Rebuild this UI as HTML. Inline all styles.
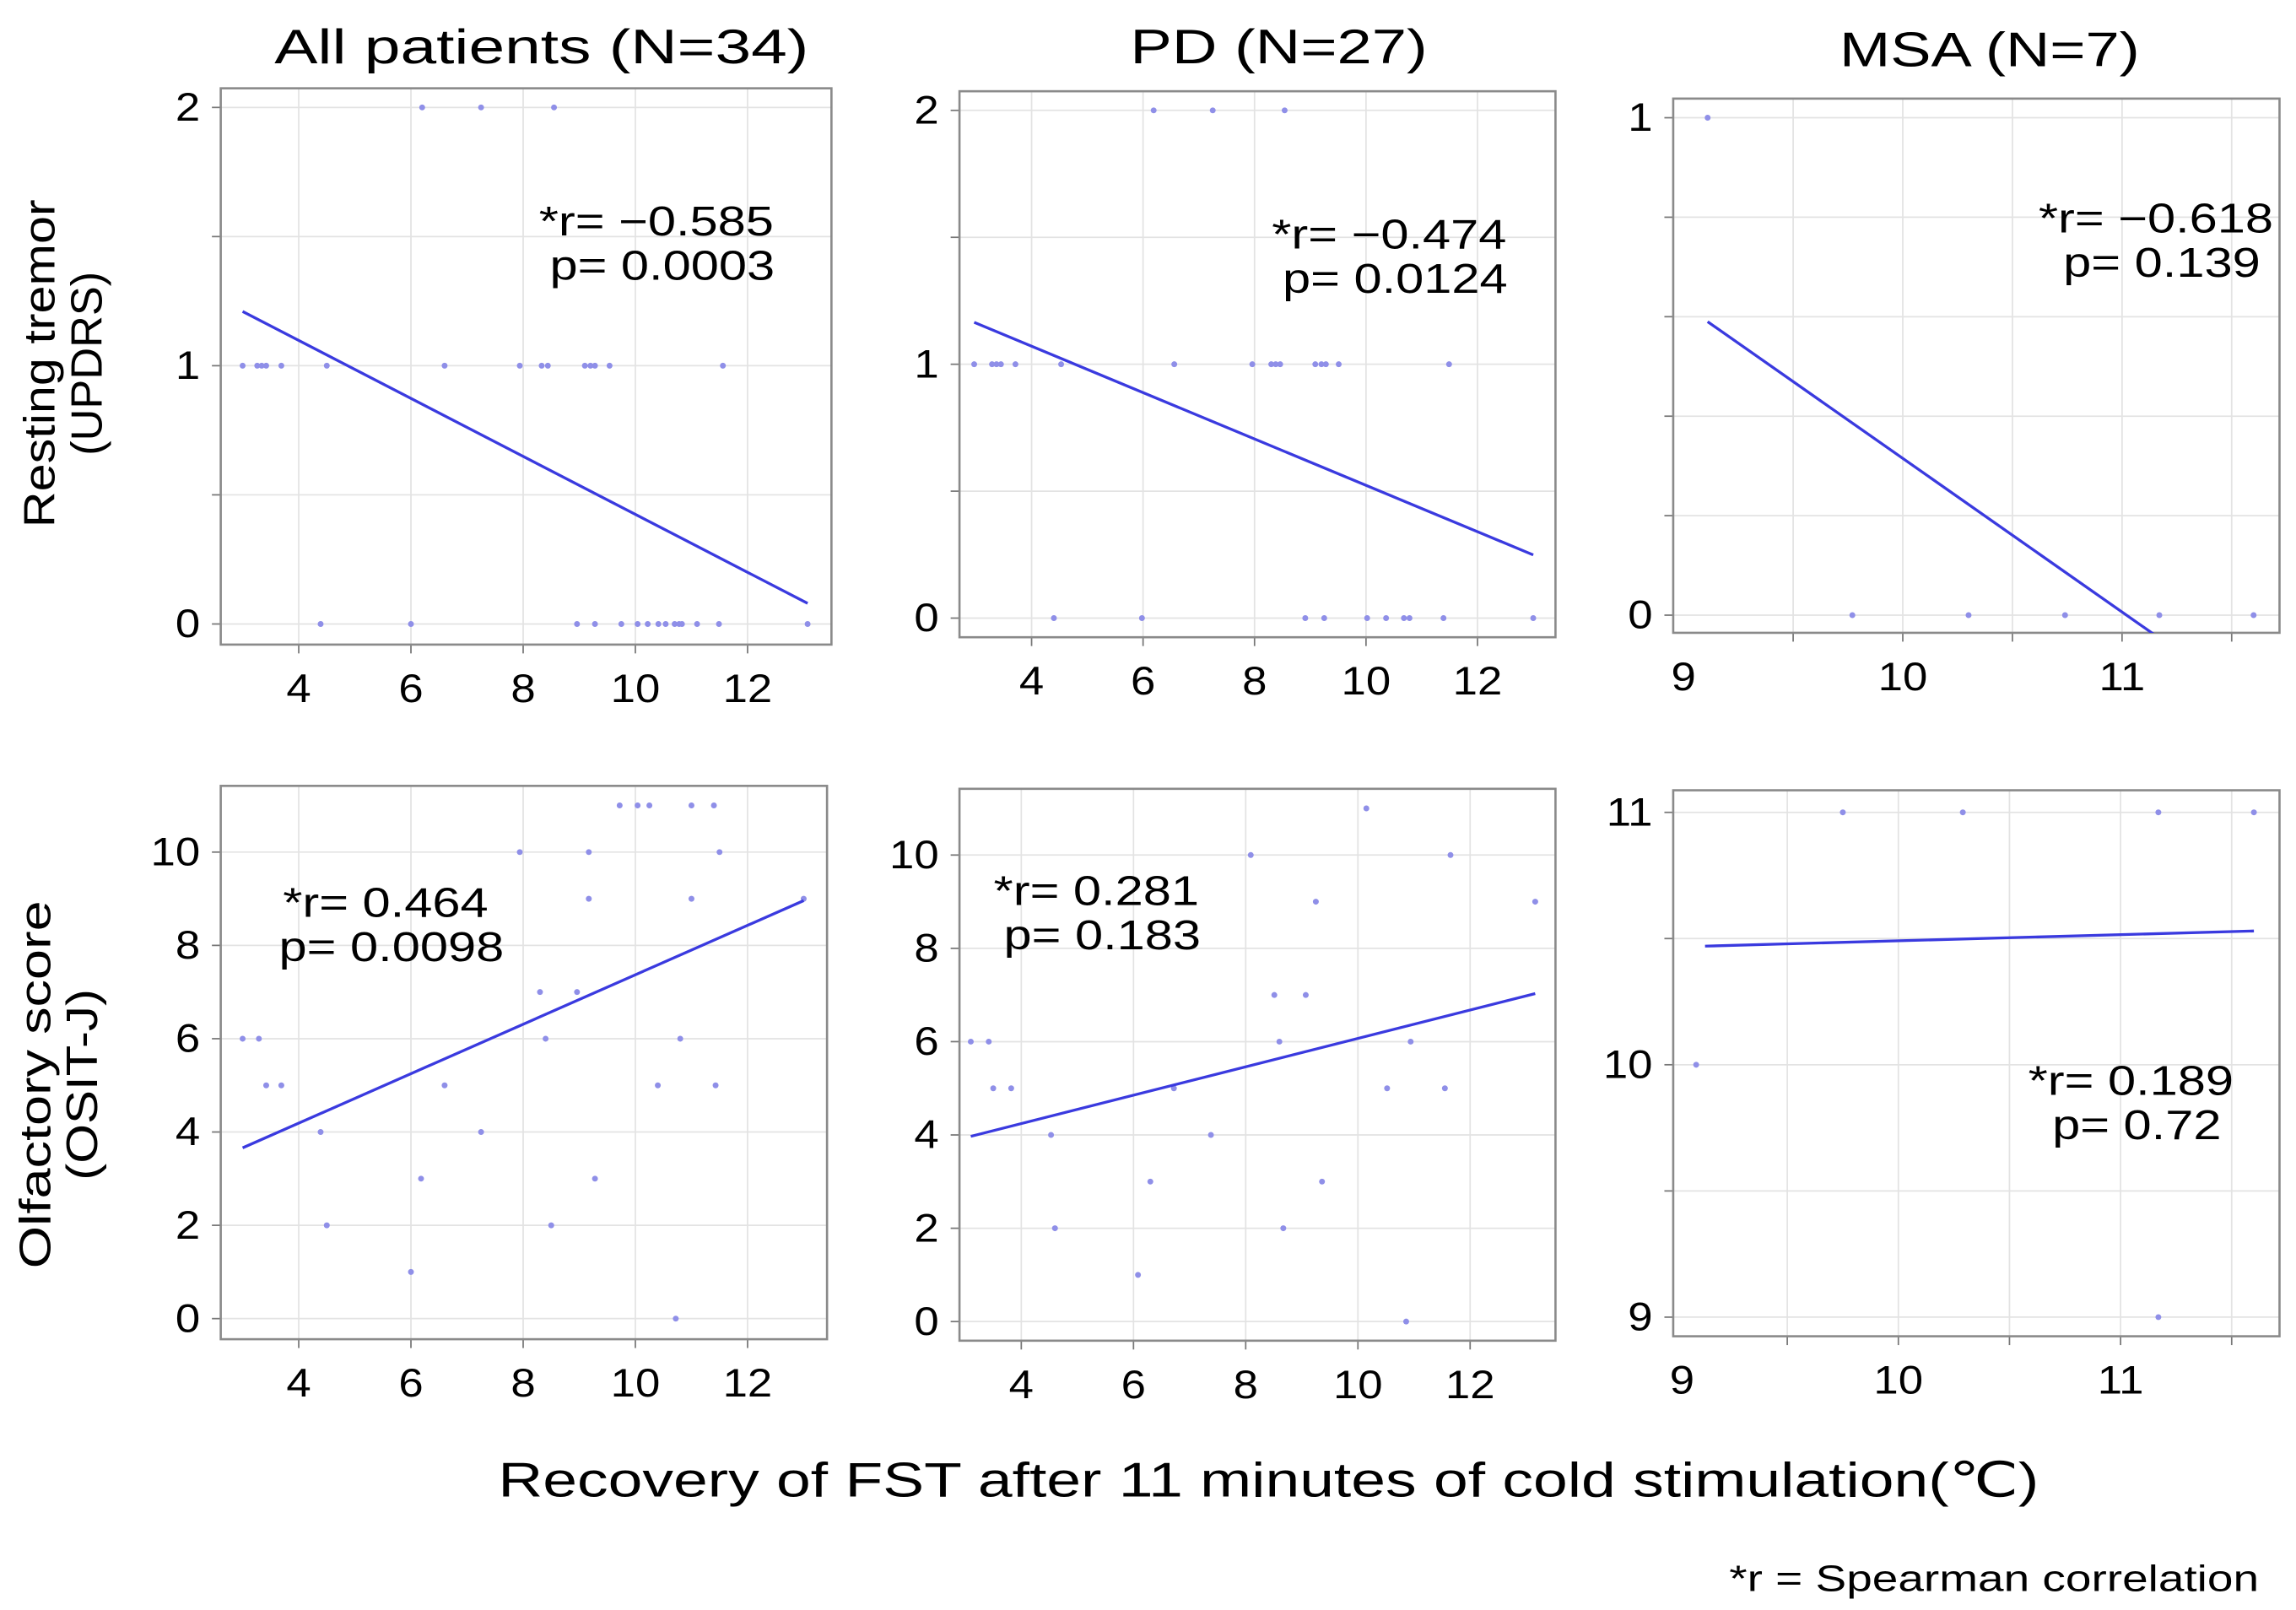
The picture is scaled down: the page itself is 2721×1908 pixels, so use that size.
<!DOCTYPE html>
<html><head><meta charset="utf-8"><style>
html,body{margin:0;padding:0;background:#fff;}
svg{display:block;font-family:"Liberation Sans","DejaVu Sans",sans-serif;}
</style></head><body>
<svg id="fig" width="2721" height="1908" viewBox="0 0 1560.2 1094" preserveAspectRatio="none" xmlns="http://www.w3.org/2000/svg">
<text x="368" y="43" font-size="33" text-anchor="middle" textLength="363" lengthAdjust="spacingAndGlyphs">All patients (N=34)</text>
<text x="869" y="43" font-size="33" text-anchor="middle" textLength="202" lengthAdjust="spacingAndGlyphs">PD (N=27)</text>
<text x="1352" y="45" font-size="33" text-anchor="middle" textLength="204" lengthAdjust="spacingAndGlyphs">MSA (N=7)</text>
<text transform="translate(37,247) rotate(-90)" font-size="30" text-anchor="middle" textLength="223" lengthAdjust="spacingAndGlyphs">Resting tremor</text>
<text transform="translate(69,247) rotate(-90)" font-size="30" text-anchor="middle" textLength="125" lengthAdjust="spacingAndGlyphs">(UPDRS)</text>
<text transform="translate(34,737) rotate(-90)" font-size="30" text-anchor="middle" textLength="250" lengthAdjust="spacingAndGlyphs">Olfactory score</text>
<text transform="translate(66,737) rotate(-90)" font-size="30" text-anchor="middle" textLength="130" lengthAdjust="spacingAndGlyphs">(OSIT-J)</text>
<text x="862" y="1017" font-size="33" text-anchor="middle" textLength="1047" lengthAdjust="spacingAndGlyphs">Recovery of FST after 11 minutes of cold stimulation(℃)</text>
<text x="1535" y="1081" font-size="25" text-anchor="end" textLength="360" lengthAdjust="spacingAndGlyphs">*r = Spearman correlation</text>
</svg>
<script>
// Panel A: All patients, tremor
const aX=[6.2,7.25,8.55,3.0,3.26,3.34,3.42,3.69,4.5,6.6,7.94,8.33,8.44,9.1,9.2,9.28,9.54,11.56,4.39,6.0,8.96,9.28,9.75,10.04,10.22,10.41,10.54,10.7,10.78,10.83,11.1,11.49,13.07];
const aY=[2,2,2,1,1,1,1,1,1,1,1,1,1,1,1,1,1,1,0,0,0,0,0,0,0,0,0,0,0,0,0,0,0];
const aLine=[3.0,1.21,13.07,0.08];
// Panel B: PD, tremor
const bX=[6.19,7.25,8.54,2.97,3.29,3.37,3.45,3.71,4.53,6.56,7.96,8.3,8.38,8.46,9.09,9.2,9.28,9.51,11.49,4.4,5.98,8.91,9.25,10.02,10.36,10.68,10.78,11.39,13.0];
const bY=[2,2,2,1,1,1,1,1,1,1,1,1,1,1,1,1,1,1,1,0,0,0,0,0,0,0,0,0,0];
const bLine=[2.97,1.165,13.0,0.249];
// Panel C: MSA, tremor
const cX=[9.11,9.77,10.30,10.74,11.17,11.60];
const cY=[1,0,0,0,0,0];
const cLine=[9.11,0.59,11.15,-0.04];
// Panel D: All patients, olfactory
const dX=[3.0,3.29,3.42,3.69,4.39,4.5,6.0,6.18,6.6,7.25,7.94,8.3,8.4,8.5,8.96,9.17,9.17,9.28,9.72,10.04,10.25,10.4,10.72,10.8,11.0,11.0,11.4,11.43,11.5,13.0];
const dY=[6,6,5,5,4,2,1,3,5,4,10,7,6,2,7,10,9,3,11,11,11,5,0,6,11,9,11,5,10,9];
const dLine=[3.0,3.66,13.0,8.96];
// Panel E: PD, olfactory
const eX=[3.1,3.42,3.5,3.82,4.53,4.6,6.08,6.3,6.72,7.38,8.09,8.51,8.6,8.67,9.07,9.25,9.36,10.15,10.52,10.86,10.94,11.55,11.65,13.16];
const eY=[6,6,5,5,4,2,1,3,5,4,10,7,6,2,7,9,3,11,5,0,6,5,10,9];
const eLine=[3.1,3.97,13.16,7.03];
// Panel F: MSA, olfactory
const fX=[9.09,9.75,10.29,11.17,11.60,11.17];
const fY=[10,11,11,11,11,9];
const fLine=[9.13,10.47,11.6,10.53];

const aXTicks=[4,6,8,10,12], aYTicks=[0,1,2], aYGrid=[0,0.5,1,1.5,2];
const cXTicks=[9,10,11], cXGrid=[9.5,10,10.5,11,11.5], cYTicks=[0,1], cYGrid=[0,0.2,0.4,0.6,0.8,1];
const dYTicks=[0,2,4,6,8,10], dYGrid=[0,2,4,6,8,10];
const fYTicks=[9,10,11], fYGrid=[9,9.5,10,10.5,11];
const stats=[["*r= −0.585","p= 0.0003"],["*r= −0.474","p= 0.0124"],["*r= −0.618","p= 0.139"],["*r= 0.464","p= 0.0098"],["*r= 0.281","p= 0.183"],["*r= 0.189","p= 0.72"]];

const NS="http://www.w3.org/2000/svg";
const svg=document.getElementById('fig');
function mk(tag,attrs,parent){const e=document.createElementNS(NS,tag);for(const k in attrs)e.setAttribute(k,attrs[k]);(parent||svg).appendChild(e);return e;}
function widen(t,f){const w=t.getComputedTextLength();t.setAttribute('textLength',w*f);t.setAttribute('lengthAdjust','spacingAndGlyphs');}

function panel(p){
  const g=mk('g',{});
  
  
  const sx=v=>p.px0+(v-p.x0)*(p.px1-p.px0)/(p.x1-p.x0);
  const sy=v=>p.py0+(v-p.y0)*(p.py1-p.py0)/(p.y1-p.y0);
  const cid='clip-'+p.name;
  const cp=mk('clipPath',{id:cid},g);
  mk('rect',{x:p.L,y:p.T,width:p.R-p.L,height:p.B-p.T},cp);
  p.xgrid.forEach(v=>{const l=mk('line',{x1:sx(v),x2:sx(v),y1:p.T,y2:p.B,stroke:'#e3e3e3','stroke-width':1},g);
    
    
    mk('line',{x1:sx(v),x2:sx(v),y1:p.B,y2:p.B+6,stroke:'#777','stroke-width':1},g);});
  p.ygrid.forEach(v=>{const l=mk('line',{x1:p.L,x2:p.R,y1:sy(v),y2:sy(v),stroke:'#e3e3e3','stroke-width':1},g);
    
    
    mk('line',{x1:p.L-6,x2:p.L,y1:sy(v),y2:sy(v),stroke:'#777','stroke-width':1},g);});
  const fr=mk('rect',{x:p.L,y:p.T,width:p.R-p.L,height:p.B-p.T,fill:'none',stroke:'#8a8a8a','stroke-width':1.5},g);
  
  
  p.xticks.forEach(v=>{const t=mk('text',{x:Math.max(sx(v),p.L+6),y:p.B+39,'font-size':27,'text-anchor':'middle'},g);t.textContent=v;
    
    
    widen(t,1.12);});
  p.yticks.forEach(v=>{const t=mk('text',{x:p.L-14,y:sy(v)+9,'font-size':27,'text-anchor':'end'},g);t.textContent=v;
    
    
    widen(t,1.12);});
  p.xs.forEach((x,i)=>{const c=mk('circle',{cx:sx(x),cy:sy(p.ys[i]),r:2,fill:'#8f8fe8'},g);
    
    });
  const ln=mk('line',{x1:sx(p.line[0]),y1:sy(p.line[1]),x2:sx(p.line[2]),y2:sy(p.line[3]),stroke:'#3a3adf','stroke-width':1.9,'clip-path':'url(#'+cid+')'},g);
  
  
  const st=mk('text',{x:p.sxp,y:p.syp,'font-size':28,'text-anchor':'middle'},g);
  
  
  const t1=mk('tspan',{x:p.sxp,dy:0},st);t1.textContent=p.stat[0];
  const t2=mk('tspan',{x:p.sxp+4,dy:30},st);t2.textContent=p.stat[1];
  [t1,t2].forEach(t=>{const w=t.getComputedTextLength();t.setAttribute('textLength',w*1.22);t.setAttribute('lengthAdjust','spacingAndGlyphs');});
}
const ev=[4,6,8,10,12];
panel({name:'panel-all-tremor',L:150,R:565,T:60,B:438,x0:4,x1:12,px0:203,px1:508,y0:0,y1:2,py0:424,py1:73,xs:aX,ys:aY,line:aLine,xgrid:ev,xticks:aXTicks,ygrid:aYGrid,yticks:aYTicks,stat:stats[0],sxp:446,syp:160});
panel({name:'panel-pd-tremor',L:652,R:1057,T:62,B:433,x0:4,x1:12,px0:701,px1:1004,y0:0,y1:2,py0:420,py1:75,xs:bX,ys:bY,line:bLine,xgrid:ev,xticks:aXTicks,ygrid:aYGrid,yticks:aYTicks,stat:stats[1],sxp:944,syp:169});
panel({name:'panel-msa-tremor',L:1137,R:1549,T:67,B:430,x0:10,x1:11,px0:1293,px1:1442,y0:0,y1:1,py0:418,py1:80,xs:cX,ys:cY,line:cLine,xgrid:cXGrid,xticks:cXTicks,ygrid:cYGrid,yticks:cYTicks,stat:stats[2],sxp:1465,syp:158});
panel({name:'panel-all-olfactory',L:150,R:562,T:534,B:910,x0:4,x1:12,px0:203,px1:508,y0:0,y1:10,py0:896,py1:579,xs:dX,ys:dY,line:dLine,xgrid:ev,xticks:aXTicks,ygrid:dYGrid,yticks:dYTicks,stat:stats[3],sxp:262,syp:623});
panel({name:'panel-pd-olfactory',L:652,R:1057,T:536,B:911,x0:4,x1:12,px0:694,px1:999,y0:0,y1:10,py0:898,py1:581,xs:eX,ys:eY,line:eLine,xgrid:ev,xticks:aXTicks,ygrid:dYGrid,yticks:dYTicks,stat:stats[4],sxp:745,syp:615});
panel({name:'panel-msa-olfactory',L:1137,R:1549,T:537,B:908,x0:10,x1:11,px0:1290,px1:1441,y0:9,y1:11,py0:895,py1:552,xs:fX,ys:fY,line:fLine,xgrid:cXGrid,xticks:cXTicks,ygrid:fYGrid,yticks:fYTicks,stat:stats[5],sxp:1448,syp:744});
</script>
</body></html>
